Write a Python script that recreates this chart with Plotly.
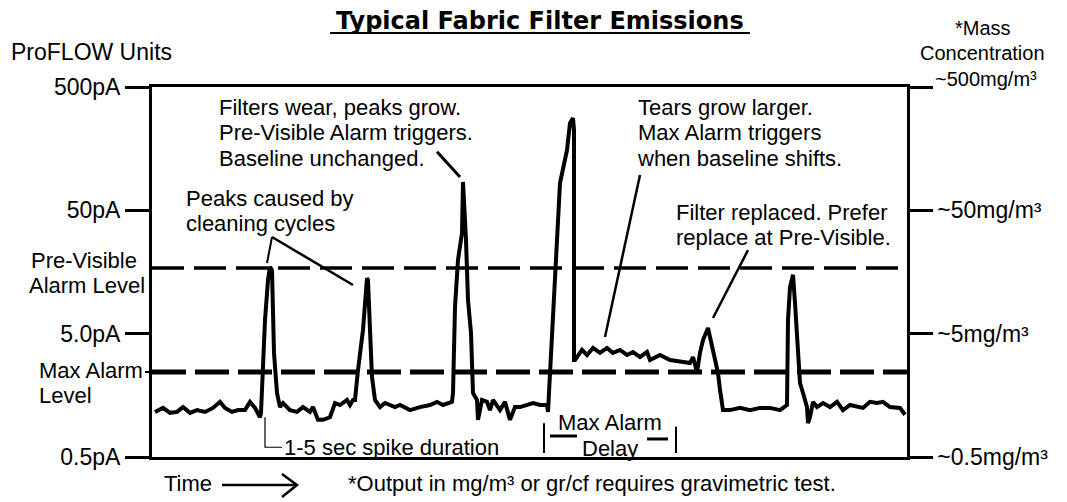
import plotly.graph_objects as go

# ---------------- data ----------------
# time in arbitrary units, signal in pA (log scale)
time = [3, 11, 18, 25, 31, 38, 45, 53, 61, 68, 73, 80, 86, 93, 98, 103, 108,
        109, 113, 116, 118, 120, 122, 125, 128,
        131, 138, 145, 151, 158, 161, 166, 171, 178, 183, 188, 195, 198, 201,
        203, 206, 211, 215, 216, 218, 220, 223,
        228, 233, 238, 243, 248, 258, 268, 278, 285, 291, 300,
        301, 303, 306, 310, 311, 314, 316, 319, 321,
        325, 326, 330, 335, 338, 341, 348, 353, 358, 363, 368, 375, 381, 388, 395, 396,
        398, 401, 405, 408, 415, 418, 421, 422, 422, 423,
        425, 430, 435, 441, 448, 455, 461, 468, 475, 481, 488, 495, 498, 508, 518, 528, 538,
        541, 545, 548, 551, 556, 560, 563, 566, 568, 570, 571,
        578, 588, 598, 608, 618, 628, 635,
        636, 638, 641, 643, 646, 648, 651, 655, 656, 658,
        661, 665, 671, 678, 685, 691, 698, 705, 711, 718, 725, 731, 738, 748, 753]
signal_pA = [1.16, 1.25, 1.14, 1.16, 1.27, 1.14, 1.20, 1.16, 1.25, 1.40, 1.25, 1.16, 1.20, 1.20, 1.40, 1.25, 1.05,
             1.14, 6.45, 13.6, 17.4, 16.4, 3.49, 1.65, 1.27,
             1.37, 1.20, 1.16, 1.27, 1.16, 1.27, 1.00, 1.00, 1.05, 1.37, 1.32, 1.45, 1.32, 1.45,
             1.45, 2.54, 5.36, 14.1, 13.6, 5.36, 2.23, 1.45,
             1.27, 1.37, 1.32, 1.27, 1.32, 1.20, 1.27, 1.32, 1.40, 1.32, 1.40,
             1.65, 8.23, 19.8, 32.8, 84.9, 28.7, 9.37, 5.06, 1.65,
             1.45, 1.00, 1.45, 1.40, 1.20, 1.45, 1.20, 1.40, 1.00, 1.27, 1.27, 1.32, 1.37, 1.32, 1.32, 1.16,
             2.40, 6.83, 23.8, 83.3, 154, 255, 280, 224, 3.06, 3.06,
             3.23, 3.69, 3.36, 3.83, 3.49, 3.83, 3.49, 3.69, 3.36, 3.55, 3.23, 3.55, 3.06, 3.36, 3.06, 2.95, 2.89,
             3.23, 2.44, 3.49, 4.44, 5.56, 3.90, 2.89, 2.40, 1.75, 1.40, 1.20,
             1.20, 1.25, 1.20, 1.25, 1.25, 1.20, 1.32,
             6.45, 11.9, 15.0, 8.87, 3.49, 1.99, 1.65, 1.27, 0.94, 1.05,
             1.40, 1.27, 1.37, 1.27, 1.40, 1.20, 1.32, 1.27, 1.25, 1.40, 1.37, 1.40, 1.27, 1.25, 1.10]

pre_visible_level = 17.0   # pA
max_alarm_level = 2.44     # pA
time_range = [0, 755]

left_tick_vals = [0.5, 5, 50, 500]
left_tick_text = ["0.5pA", "5.0pA", "50pA", "500pA"]
right_tick_text = ["~0.5mg/m³", "~5mg/m³", "~50mg/m³", "~500mg/m³"]

# pointer lines (time, pA)
ptr_cleaning_1 = ([120, 115], [30.4, 18.7])
ptr_cleaning_2 = ([120, 201], [30.4, 12.4])
ptr_baseline = ([285, 308], [149, 93.2])
ptr_tears = ([488, 453], [96.7, 4.70])
ptr_replaced = ([596, 561], [23.8, 6.70])
ptr_spike = ([113, 113, 130], [1.05, 0.60, 0.60])
delay_bar_left = ([392, 392], [0.94, 0.54])
delay_bar_right = ([524, 524], [0.88, 0.54])
delay_dash_left = ([398, 425], [0.74, 0.74])
delay_dash_right = ([495, 516], [0.70, 0.70])

# ---------------- layout geometry ----------------
# the page body has an 8px margin, so the figure is made 8px smaller
OFF = 8
W, H = 1067 - OFF, 502 - OFF
L, R, T, B = 152, 907, 87, 457     # plot box in page pixels
FONT = "Liberation Sans, Arial, Helvetica, sans-serif"


def px(x):
    return (x - L) / (R - L)


def py(y):
    return (B - y) / (B - T)


fig = go.Figure()

# dashed alarm levels
fig.add_trace(go.Scatter(x=time_range, y=[pre_visible_level] * 2, mode="lines",
                         line=dict(color="black", width=3.5, dash="32px,10px"),
                         hoverinfo="skip", showlegend=False))
fig.add_trace(go.Scatter(x=time_range, y=[max_alarm_level] * 2, mode="lines",
                         line=dict(color="black", width=5, dash="34px,9px"),
                         hoverinfo="skip", showlegend=False))

# main signal
fig.add_trace(go.Scatter(x=time, y=signal_pA, mode="lines",
                         line=dict(color="black", width=4),
                         showlegend=False))

# pointer and bracket lines
for seg, w in [(ptr_cleaning_1, 2), (ptr_cleaning_2, 2.5), (ptr_baseline, 3), (ptr_tears, 2.5),
               (ptr_replaced, 2.5), (ptr_spike, 1.2), (delay_bar_left, 2), (delay_bar_right, 2),
               (delay_dash_left, 3), (delay_dash_right, 3)]:
    fig.add_trace(go.Scatter(x=seg[0], y=seg[1], mode="lines",
                             line=dict(color="black", width=w),
                             hoverinfo="skip", showlegend=False))

# invisible trace to activate right axis
fig.add_trace(go.Scatter(x=[time_range[0]], y=[max_alarm_level], yaxis="y2", mode="markers",
                         marker=dict(opacity=0), hoverinfo="skip", showlegend=False))

ann = []


def txt(s, x, y, size=22, xanchor="left", bold=False, family=FONT):
    ann.append(dict(text=s, x=px(x), y=py(y), xref="paper", yref="paper",
                    xanchor=xanchor, yanchor="middle", showarrow=False, borderpad=0,
                    font=dict(family=family, size=size, color="black",
                              weight="bold" if bold else "normal")))


txt("Typical Fabric Filter Emissions", 540, 21, size=24, xanchor="center", bold=True,
    family="DejaVu Sans, sans-serif")
txt("ProFLOW Units", 10, 52, size=23)
txt("*Mass", 983, 28, size=20, xanchor="center")
txt("Concentration", 982, 53, size=20, xanchor="center")
txt(right_tick_text[3], 934, 79, size=20)
txt("Pre-Visible", 30, 260)
txt("Alarm Level", 28, 285)
txt("Max Alarm", 38, 370)
txt("Level", 38, 395)
txt("Filters wear, peaks grow.", 218, 107)
txt("Pre-Visible Alarm triggers.", 218, 132)
txt("Baseline unchanged.", 218, 158)
txt("Peaks caused by", 185, 198)
txt("cleaning cycles", 185, 223)
txt("Tears grow larger.", 637, 107)
txt("Max Alarm triggers", 637, 132)
txt("when baseline shifts.", 636, 158)
txt("Filter replaced. Prefer", 675, 212)
txt("replace at Pre-Visible.", 675, 237)
txt("1-5 sec spike duration", 283, 447)
txt("Max Alarm", 610, 422, xanchor="center")
txt("Delay", 610, 448, xanchor="center")
txt("Time", 163, 484)
txt("*Output in mg/m³ or gr/cf requires gravimetric test.", 347, 484)

shapes = [
    # title underline
    dict(type="line", xref="paper", yref="paper", x0=px(330), x1=px(750), y0=py(33), y1=py(33),
         line=dict(color="black", width=2)),
    # time arrow
    dict(type="line", xref="paper", yref="paper", x0=px(222), x1=px(296), y0=py(485), y1=py(485),
         line=dict(color="black", width=2.5)),
    dict(type="path", xref="paper", yref="paper",
         path=f"M {px(282)},{py(474)} L {px(297)},{py(485)} L {px(282)},{py(497)}",
         line=dict(color="black", width=2.5)),
    # small tick at Max Alarm label
    dict(type="line", xref="paper", yref="paper", x0=px(145), x1=px(152), y0=py(372), y1=py(372),
         line=dict(color="black", width=2)),
]

fig.update_layout(
    width=W, height=H, autosize=False,
    margin=dict(l=L - OFF, r=1067 - R, t=T - OFF, b=502 - B, pad=0),
    paper_bgcolor="white", plot_bgcolor="white",
    font=dict(family=FONT, color="black"),
    annotations=ann, shapes=shapes,
    xaxis=dict(range=time_range, showgrid=False, zeroline=False, showticklabels=False,
               ticks="", showline=True, linewidth=3, linecolor="black", mirror=True),
    yaxis=dict(type="log", range=[-0.30103, 2.69897], showgrid=False, zeroline=False,
               tickvals=left_tick_vals, ticktext=left_tick_text, ticks="outside",
               ticklen=24, tickwidth=3, tickcolor="black", showline=True, linewidth=3,
               linecolor="black", tickfont=dict(family=FONT, size=23, color="black")),
    yaxis2=dict(type="log", range=[-0.30103, 2.69897], overlaying="y", side="right",
                showgrid=False, zeroline=False, tickvals=left_tick_vals,
                ticktext=right_tick_text[:3] + [""], ticks="outside", ticklen=23, tickwidth=3,
                tickcolor="black", showline=True, linewidth=2.5, linecolor="black",
                tickfont=dict(family=FONT, size=23, color="black")),
)

fig.write_html("out.html")
